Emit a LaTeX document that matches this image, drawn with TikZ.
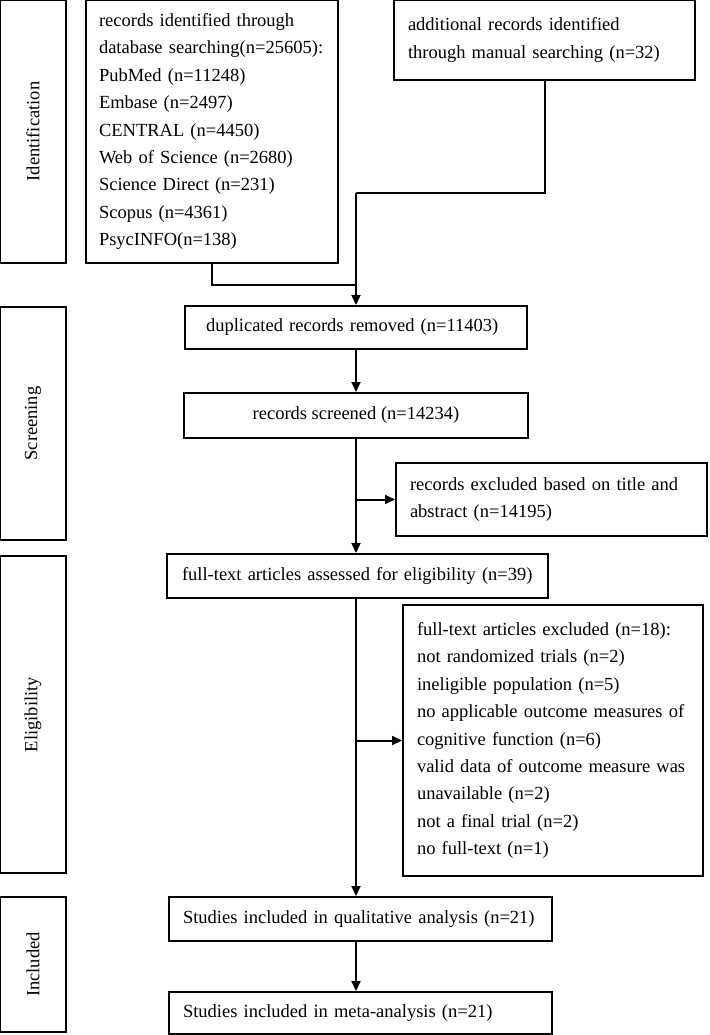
\documentclass[tikz,border=0pt]{standalone}
\usepackage{fontspec}
\setmainfont{Liberation Serif}
\usetikzlibrary{arrows.meta}
\begin{document}
\begin{tikzpicture}[x=1pt,y=-1pt,
  box/.style={draw=black,line width=2pt,inner sep=0pt,font=\fontsize{18.5}{27.4}\selectfont},
  tbox/.style={box,align=left,inner xsep=14pt},
  cbox/.style={box,align=center},
  phase/.style={box,font=\fontsize{18.5}{20}\selectfont},
  ptext/.style={rotate=90,font=\fontsize{18.5}{20}\selectfont},
  arr/.style={line width=2pt,-{Triangle[length=10pt,width=9pt]}},
  ln/.style={line width=2pt}]
\useasboundingbox (0,0) rectangle (709,1035);
% phase boxes
\node[phase,minimum width=66pt,minimum height=263pt] (pid) at (33,131.5) {};
\node[ptext] (tid) at (pid.center) {Identification};
\node[phase,minimum width=66pt,minimum height=233pt] (psc) at (33,423.5) {};
\node[ptext] (tsc) at (psc.center) {Screening};
\node[phase,minimum width=66pt,minimum height=317pt] (pel) at (33,714.5) {};
\node[ptext] (tel) at (pel.center) {Eligibility};
\node[phase,minimum width=66pt,minimum height=135pt] (pin) at (33,964.5) {};
\node[ptext] (tin) at (pin.center) {Included};
% main boxes
\node[tbox,inner xsep=13pt,text width=226pt,minimum height=263pt] (db) at (212,131.5) {records identified through\\database searching(n=25605):\\PubMed (n=11248)\\Embase (n=2497)\\CENTRAL (n=4450)\\Web of Science (n=2680)\\Science Direct (n=231)\\Scopus (n=4361)\\PsycINFO(n=138)};
\node[tbox,text width=273pt,minimum height=80pt] (add) at (544.5,40) {additional records identified\\through manual searching (n=32)};
\node[tbox,inner xsep=21pt,text width=300pt,minimum height=43pt] (dup) at (356,327.5) {duplicated records removed (n=11403)};
\node[cbox,minimum width=344pt,minimum height=45pt] (rs) at (356,415.5) {records screened (n=14234)};
\node[tbox,text width=283pt,minimum height=73pt] (ex1) at (551.5,499.5) {records excluded based on title and\\abstract (n=14195)};
\node[tbox,inner xsep=15pt,text width=351pt,minimum height=44pt] (ft) at (357.5,576) {full-text articles assessed for eligibility (n=39)};
\node[tbox,text width=272pt,minimum height=271pt] (ex2) at (553,740.5) {full-text articles excluded (n=18):\\not randomized trials (n=2)\\ineligible population (n=5)\\no applicable outcome measures of\\cognitive function (n=6)\\valid data of outcome measure was\\unavailable (n=2)\\not a final trial (n=2)\\no full-text (n=1)};
\node[tbox,text width=355pt,minimum height=44pt] (qual) at (360.5,919) {Studies included in qualitative analysis (n=21)};
\node[tbox,text width=355pt,minimum height=42pt] (meta) at (360.5,1013) {Studies included in meta-analysis (n=21)};
% connectors
\coordinate (j1) at (356,193);
\coordinate (j2) at (356,285);
\draw[ln] (add.south) |- (j1);
\draw[ln] (db.south) |- (j2);
\draw[arr] (j1) -- (j1 |- dup.north);
\draw[arr] (dup.south -| j1) -- (j1 |- rs.north);
\draw[arr] (rs.south -| j1) -- (j1 |- ft.north);
\draw[arr] (j1 |- ex1.west) -- (ex1.west);
\draw[arr] (ft.south -| j1) -- (j1 |- qual.north);
\draw[arr] (j1 |- ex2.west) -- (ex2.west);
\draw[arr] (qual.south -| j1) -- (j1 |- meta.north);
\end{tikzpicture}
\end{document}
